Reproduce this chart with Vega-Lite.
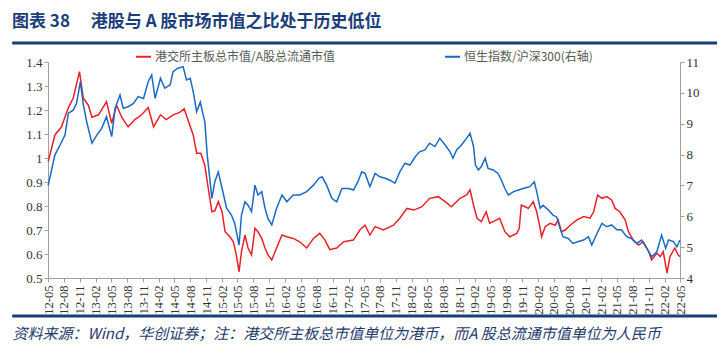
{
  "$schema": "https://vega.github.io/schema/vega-lite/v6.json",
  "width": 632,
  "height": 216,
  "autosize": {"type": "none"},
  "padding": {"left": 48, "top": 62, "right": 46, "bottom": 73},
  "background": "white",
  "config": {
    "view": {"stroke": null},
    "axis": {"labelOverlap": false, "labelSeparation": 0, "labelFlush": false}
  },
  "title": {
    "text": "图表 38\u2003 港股与 A 股市场市值之比处于历史低位",
    "anchor": "start",
    "frame": "group",
    "dx": -36,
    "offset": 11,
    "font": "Noto Sans CJK SC",
    "fontSize": 17,
    "fontWeight": "bold",
    "color": "#1b3d7a"
  },
  "datasets": {
    "ratio": [
      {"date": "2012/05/02", "v": 0.985}, {"date": "2012/06/10", "v": 1.096}, {"date": "2012/07/18", "v": 1.13},
      {"date": "2012/08/27", "v": 1.21}, {"date": "2012/09/24", "v": 1.25}, {"date": "2012/10/30", "v": 1.36},
      {"date": "2012/11/21", "v": 1.25}, {"date": "2012/12/20", "v": 1.22}, {"date": "2013/01/10", "v": 1.17},
      {"date": "2013/02/17", "v": 1.18}, {"date": "2013/04/04", "v": 1.235}, {"date": "2013/05/04", "v": 1.145},
      {"date": "2013/06/01", "v": 1.22}, {"date": "2013/07/01", "v": 1.17}, {"date": "2013/08/07", "v": 1.13},
      {"date": "2013/09/15", "v": 1.16}, {"date": "2013/10/24", "v": 1.18}, {"date": "2013/12/01", "v": 1.21},
      {"date": "2014/01/01", "v": 1.13}, {"date": "2014/02/10", "v": 1.18}, {"date": "2014/03/15", "v": 1.16},
      {"date": "2014/04/24", "v": 1.18}, {"date": "2014/06/01", "v": 1.19}, {"date": "2014/06/27", "v": 1.205},
      {"date": "2014/07/18", "v": 1.16}, {"date": "2014/08/18", "v": 1.096}, {"date": "2014/09/07", "v": 1.02},
      {"date": "2014/10/01", "v": 1.02}, {"date": "2014/10/24", "v": 0.97}, {"date": "2014/11/13", "v": 0.874},
      {"date": "2014/12/04", "v": 0.776}, {"date": "2014/12/21", "v": 0.78}, {"date": "2015/01/10", "v": 0.818},
      {"date": "2015/02/01", "v": 0.776}, {"date": "2015/02/18", "v": 0.693}, {"date": "2015/03/18", "v": 0.672},
      {"date": "2015/04/07", "v": 0.651}, {"date": "2015/04/24", "v": 0.596}, {"date": "2015/05/10", "v": 0.526},
      {"date": "2015/05/24", "v": 0.61}, {"date": "2015/06/13", "v": 0.679}, {"date": "2015/07/01", "v": 0.625},
      {"date": "2015/07/21", "v": 0.596}, {"date": "2015/08/10", "v": 0.707}, {"date": "2015/08/27", "v": 0.693},
      {"date": "2015/09/18", "v": 0.665}, {"date": "2015/10/07", "v": 0.625}, {"date": "2015/10/24", "v": 0.596},
      {"date": "2015/11/15", "v": 0.575}, {"date": "2015/12/13", "v": 0.625}, {"date": "2016/01/13", "v": 0.679},
      {"date": "2016/02/10", "v": 0.672}, {"date": "2016/03/18", "v": 0.665}, {"date": "2016/04/24", "v": 0.651},
      {"date": "2016/06/04", "v": 0.625}, {"date": "2016/07/13", "v": 0.665}, {"date": "2016/08/18", "v": 0.686},
      {"date": "2016/09/18", "v": 0.658}, {"date": "2016/10/15", "v": 0.618}, {"date": "2016/11/24", "v": 0.625},
      {"date": "2017/01/04", "v": 0.651}, {"date": "2017/03/01", "v": 0.658}, {"date": "2017/04/07", "v": 0.70},
      {"date": "2017/05/07", "v": 0.72}, {"date": "2017/06/04", "v": 0.679}, {"date": "2017/07/04", "v": 0.714},
      {"date": "2017/08/21", "v": 0.70}, {"date": "2017/10/18", "v": 0.72}, {"date": "2017/11/24", "v": 0.749},
      {"date": "2018/01/04", "v": 0.79}, {"date": "2018/02/13", "v": 0.783}, {"date": "2018/04/01", "v": 0.797},
      {"date": "2018/05/15", "v": 0.832}, {"date": "2018/07/04", "v": 0.839}, {"date": "2018/08/13", "v": 0.818},
      {"date": "2018/09/18", "v": 0.797}, {"date": "2018/11/07", "v": 0.832}, {"date": "2018/12/15", "v": 0.846},
      {"date": "2019/01/04", "v": 0.867}, {"date": "2019/01/24", "v": 0.804}, {"date": "2019/02/13", "v": 0.749},
      {"date": "2019/03/10", "v": 0.735}, {"date": "2019/04/07", "v": 0.776}, {"date": "2019/04/27", "v": 0.728},
      {"date": "2019/06/07", "v": 0.742}, {"date": "2019/06/24", "v": 0.749}, {"date": "2019/07/24", "v": 0.693},
      {"date": "2019/08/21", "v": 0.672}, {"date": "2019/10/01", "v": 0.686}, {"date": "2019/10/15", "v": 0.707},
      {"date": "2019/10/27", "v": 0.804}, {"date": "2019/11/18", "v": 0.797}, {"date": "2019/12/07", "v": 0.79},
      {"date": "2020/01/04", "v": 0.818}, {"date": "2020/01/24", "v": 0.776}, {"date": "2020/02/13", "v": 0.707},
      {"date": "2020/02/21", "v": 0.672}, {"date": "2020/03/13", "v": 0.714}, {"date": "2020/04/10", "v": 0.728},
      {"date": "2020/05/10", "v": 0.72}, {"date": "2020/05/27", "v": 0.742}, {"date": "2020/06/15", "v": 0.693},
      {"date": "2020/07/07", "v": 0.70}, {"date": "2020/08/04", "v": 0.72}, {"date": "2020/09/13", "v": 0.742},
      {"date": "2020/10/21", "v": 0.756}, {"date": "2020/11/27", "v": 0.749}, {"date": "2020/12/18", "v": 0.776},
      {"date": "2021/01/10", "v": 0.846}, {"date": "2021/02/04", "v": 0.832}, {"date": "2021/03/04", "v": 0.839},
      {"date": "2021/04/01", "v": 0.825}, {"date": "2021/04/21", "v": 0.79}, {"date": "2021/05/18", "v": 0.776},
      {"date": "2021/06/18", "v": 0.742}, {"date": "2021/07/07", "v": 0.693}, {"date": "2021/08/04", "v": 0.658},
      {"date": "2021/09/04", "v": 0.637}, {"date": "2021/10/01", "v": 0.651}, {"date": "2021/11/01", "v": 0.61},
      {"date": "2021/11/18", "v": 0.575}, {"date": "2021/12/18", "v": 0.603}, {"date": "2022/01/07", "v": 0.589},
      {"date": "2022/01/24", "v": 0.61}, {"date": "2022/02/15", "v": 0.52}, {"date": "2022/03/04", "v": 0.589},
      {"date": "2022/04/01", "v": 0.625}, {"date": "2022/04/21", "v": 0.596}, {"date": "2022/05/01", "v": 0.589}
    ],
    "index": [
      {"date": "2012/05/02", "v": 7.0}, {"date": "2012/06/10", "v": 7.99}, {"date": "2012/07/10", "v": 8.31},
      {"date": "2012/08/07", "v": 8.63}, {"date": "2012/08/27", "v": 9.34}, {"date": "2012/09/24", "v": 9.44},
      {"date": "2012/10/13", "v": 9.66}, {"date": "2012/11/04", "v": 10.36}, {"date": "2012/11/21", "v": 9.63},
      {"date": "2012/12/10", "v": 9.07}, {"date": "2013/01/10", "v": 8.37}, {"date": "2013/02/07", "v": 8.63},
      {"date": "2013/03/07", "v": 8.85}, {"date": "2013/04/04", "v": 9.23}, {"date": "2013/05/04", "v": 8.58},
      {"date": "2013/05/24", "v": 9.5}, {"date": "2013/06/21", "v": 9.93}, {"date": "2013/07/10", "v": 9.5},
      {"date": "2013/08/07", "v": 9.55}, {"date": "2013/09/07", "v": 9.66}, {"date": "2013/10/04", "v": 9.88},
      {"date": "2013/11/04", "v": 9.82}, {"date": "2013/12/01", "v": 10.36}, {"date": "2013/12/21", "v": 10.58},
      {"date": "2014/01/10", "v": 9.82}, {"date": "2014/02/10", "v": 10.47}, {"date": "2014/03/07", "v": 10.15},
      {"date": "2014/04/07", "v": 10.26}, {"date": "2014/04/24", "v": 10.69}, {"date": "2014/05/21", "v": 10.8},
      {"date": "2014/06/21", "v": 10.85}, {"date": "2014/07/10", "v": 10.42}, {"date": "2014/08/01", "v": 10.47},
      {"date": "2014/08/18", "v": 10.04}, {"date": "2014/09/07", "v": 9.39}, {"date": "2014/09/28", "v": 9.7},
      {"date": "2014/10/15", "v": 9.28}, {"date": "2014/10/24", "v": 9.07}, {"date": "2014/11/07", "v": 7.99},
      {"date": "2014/11/24", "v": 7.12}, {"date": "2014/12/04", "v": 6.58}, {"date": "2014/12/21", "v": 7.12},
      {"date": "2015/01/10", "v": 7.44}, {"date": "2015/02/01", "v": 6.9}, {"date": "2015/02/27", "v": 6.26},
      {"date": "2015/03/27", "v": 6.04}, {"date": "2015/04/15", "v": 5.77}, {"date": "2015/05/10", "v": 5.07},
      {"date": "2015/05/24", "v": 6.04}, {"date": "2015/06/13", "v": 6.47}, {"date": "2015/07/01", "v": 6.36},
      {"date": "2015/07/21", "v": 6.15}, {"date": "2015/08/10", "v": 7.01}, {"date": "2015/08/27", "v": 6.69},
      {"date": "2015/09/18", "v": 6.8}, {"date": "2015/10/07", "v": 6.26}, {"date": "2015/10/24", "v": 5.93},
      {"date": "2015/11/15", "v": 5.72}, {"date": "2015/12/13", "v": 6.26}, {"date": "2016/01/13", "v": 6.69},
      {"date": "2016/02/10", "v": 6.47}, {"date": "2016/03/18", "v": 6.69}, {"date": "2016/04/24", "v": 6.69},
      {"date": "2016/06/04", "v": 6.8}, {"date": "2016/07/13", "v": 7.01}, {"date": "2016/08/13", "v": 7.23},
      {"date": "2016/09/01", "v": 7.28}, {"date": "2016/09/27", "v": 7.01}, {"date": "2016/10/27", "v": 6.58},
      {"date": "2016/11/24", "v": 6.47}, {"date": "2016/12/24", "v": 6.9}, {"date": "2017/02/01", "v": 6.9},
      {"date": "2017/03/01", "v": 6.85}, {"date": "2017/03/27", "v": 7.12}, {"date": "2017/04/18", "v": 7.44},
      {"date": "2017/05/07", "v": 7.39}, {"date": "2017/06/04", "v": 6.96}, {"date": "2017/07/04", "v": 7.39},
      {"date": "2017/08/01", "v": 7.28}, {"date": "2017/09/01", "v": 7.23}, {"date": "2017/09/27", "v": 7.17},
      {"date": "2017/10/27", "v": 7.07}, {"date": "2017/11/24", "v": 7.44}, {"date": "2017/12/24", "v": 7.72},
      {"date": "2018/01/21", "v": 7.66}, {"date": "2018/02/21", "v": 7.93}, {"date": "2018/03/18", "v": 8.09},
      {"date": "2018/04/18", "v": 8.15}, {"date": "2018/05/15", "v": 8.37}, {"date": "2018/06/15", "v": 8.26},
      {"date": "2018/07/13", "v": 8.53}, {"date": "2018/08/13", "v": 8.31}, {"date": "2018/09/10", "v": 8.09},
      {"date": "2018/09/27", "v": 7.88}, {"date": "2018/10/18", "v": 8.15}, {"date": "2018/11/15", "v": 8.31},
      {"date": "2018/12/07", "v": 8.47}, {"date": "2019/01/04", "v": 8.69}, {"date": "2019/01/24", "v": 8.26},
      {"date": "2019/02/04", "v": 7.66}, {"date": "2019/02/21", "v": 7.5}, {"date": "2019/03/10", "v": 7.61},
      {"date": "2019/04/01", "v": 7.88}, {"date": "2019/04/18", "v": 7.55}, {"date": "2019/05/18", "v": 7.5},
      {"date": "2019/06/15", "v": 7.39}, {"date": "2019/07/04", "v": 7.17}, {"date": "2019/07/24", "v": 6.9},
      {"date": "2019/08/13", "v": 6.69}, {"date": "2019/09/13", "v": 6.8}, {"date": "2019/10/10", "v": 6.85},
      {"date": "2019/11/07", "v": 6.9}, {"date": "2019/12/15", "v": 6.96}, {"date": "2020/01/10", "v": 7.12},
      {"date": "2020/01/24", "v": 6.8}, {"date": "2020/02/13", "v": 6.26}, {"date": "2020/03/01", "v": 6.36},
      {"date": "2020/04/01", "v": 6.2}, {"date": "2020/04/27", "v": 6.04}, {"date": "2020/05/18", "v": 5.98},
      {"date": "2020/06/07", "v": 5.61}, {"date": "2020/06/24", "v": 5.34}, {"date": "2020/07/24", "v": 5.28},
      {"date": "2020/08/21", "v": 5.12}, {"date": "2020/09/21", "v": 5.18}, {"date": "2020/10/21", "v": 5.23},
      {"date": "2020/11/18", "v": 5.34}, {"date": "2020/12/07", "v": 5.07}, {"date": "2021/01/07", "v": 5.45},
      {"date": "2021/02/04", "v": 5.77}, {"date": "2021/03/04", "v": 5.66}, {"date": "2021/04/01", "v": 5.72},
      {"date": "2021/05/01", "v": 5.56}, {"date": "2021/05/27", "v": 5.56}, {"date": "2021/06/27", "v": 5.34},
      {"date": "2021/07/24", "v": 5.28}, {"date": "2021/08/24", "v": 5.12}, {"date": "2021/09/21", "v": 5.23},
      {"date": "2021/10/21", "v": 4.96}, {"date": "2021/11/18", "v": 4.69}, {"date": "2021/12/18", "v": 4.85},
      {"date": "2022/01/15", "v": 5.39}, {"date": "2022/02/07", "v": 4.96}, {"date": "2022/02/24", "v": 5.23},
      {"date": "2022/03/24", "v": 5.18}, {"date": "2022/04/13", "v": 5.01}, {"date": "2022/05/01", "v": 5.23}
    ]
  },
  "layer": [
    {
      "layer": [
        {
          "data": {"name": "ratio"},
          "mark": {"type": "line", "strokeWidth": 1.5, "interpolate": "linear"},
          "encoding": {
            "x": {
              "field": "date",
              "type": "temporal",
              "scale": {"domain": [{"year": 2012, "month": 5, "date": 1}, {"year": 2022, "month": 5, "date": 1}], "nice": false},
              "axis": {
                "values": [
                  {"year": 2012, "month": 5, "date": 1}, {"year": 2012, "month": 8, "date": 1}, {"year": 2012, "month": 11, "date": 1},
                  {"year": 2013, "month": 2, "date": 1}, {"year": 2013, "month": 5, "date": 1}, {"year": 2013, "month": 8, "date": 1}, {"year": 2013, "month": 11, "date": 1},
                  {"year": 2014, "month": 2, "date": 1}, {"year": 2014, "month": 5, "date": 1}, {"year": 2014, "month": 8, "date": 1}, {"year": 2014, "month": 11, "date": 1},
                  {"year": 2015, "month": 2, "date": 1}, {"year": 2015, "month": 5, "date": 1}, {"year": 2015, "month": 8, "date": 1}, {"year": 2015, "month": 11, "date": 1},
                  {"year": 2016, "month": 2, "date": 1}, {"year": 2016, "month": 5, "date": 1}, {"year": 2016, "month": 8, "date": 1}, {"year": 2016, "month": 11, "date": 1},
                  {"year": 2017, "month": 2, "date": 1}, {"year": 2017, "month": 5, "date": 1}, {"year": 2017, "month": 8, "date": 1}, {"year": 2017, "month": 11, "date": 1},
                  {"year": 2018, "month": 2, "date": 1}, {"year": 2018, "month": 5, "date": 1}, {"year": 2018, "month": 8, "date": 1}, {"year": 2018, "month": 11, "date": 1},
                  {"year": 2019, "month": 2, "date": 1}, {"year": 2019, "month": 5, "date": 1}, {"year": 2019, "month": 8, "date": 1}, {"year": 2019, "month": 11, "date": 1},
                  {"year": 2020, "month": 2, "date": 1}, {"year": 2020, "month": 5, "date": 1}, {"year": 2020, "month": 8, "date": 1}, {"year": 2020, "month": 11, "date": 1},
                  {"year": 2021, "month": 2, "date": 1}, {"year": 2021, "month": 5, "date": 1}, {"year": 2021, "month": 8, "date": 1}, {"year": 2021, "month": 11, "date": 1},
                  {"year": 2022, "month": 2, "date": 1}, {"year": 2022, "month": 5, "date": 1}
                ],
                "tickCount": 100,
                "format": "%y-%m",
                "labelAngle": -90,
                "labelFont": "Liberation Serif",
                "labelFontSize": 12.5,
                "labelColor": "#333333",
                "labelPadding": 3,
                "labelOverlap": false,
                "domainColor": "#a0a0a0",
                "tickColor": "#a0a0a0",
                "tickSize": 4,
                "grid": false,
                "title": "资料来源：Wind，华创证券；注：港交所主板总市值单位为港币，而A 股总流通市值单位为人民币",
                "titleFont": "Noto Sans CJK SC",
                "titleFontStyle": "italic",
                "titleFontWeight": "normal",
                "titleFontSize": 15,
                "titleColor": "#1f3a6b",
                "titleAnchor": "start",
                "titleAlign": "left",
                "titleBaseline": "middle",
                "titleX": -36,
                "titleY": 55
              }
            },
            "y": {
              "field": "v",
              "type": "quantitative",
              "scale": {"domain": [0.5, 1.4], "nice": false, "zero": false},
              "axis": {
                "values": [0.5, 0.6, 0.7, 0.8, 0.9, 1, 1.1, 1.2, 1.3, 1.4],
                "tickCount": 100,
                "format": "~g",
                "labelOverlap": false,
                "labelFont": "Liberation Serif",
                "labelFontSize": 13,
                "labelColor": "#333333",
                "domainColor": "#a0a0a0",
                "tickColor": "#a0a0a0",
                "tickSize": 4,
                "grid": false,
                "title": null
              }
            },
            "color": {
              "datum": "港交所主板总市值/A股总流通市值",
              "type": "nominal",
              "scale": {"domain": ["港交所主板总市值/A股总流通市值", "恒生指数/沪深300(右轴)"], "range": ["#e8202a", "#1a6ac3"]},
              "legend": {
                "orient": "none",
                "legendX": 87,
                "legendY": -14,
                "direction": "horizontal",
                "title": null,
                "symbolType": "stroke",
                "symbolSize": 225,
                "symbolStrokeWidth": 2,
                "labelFont": "Noto Sans CJK SC",
                "labelFontSize": 12,
                "labelLimit": 0,
                "labelColor": "#595959",
                "columnPadding": 106,
                "labelOffset": 3
              }
            }
          }
        },
        {
          "data": {"values": [{}]},
          "mark": {"type": "rule", "color": "#173f7a", "strokeWidth": 3},
          "encoding": {
            "x": {"datum": {"year": 2011, "month": 10, "date": 7}, "type": "temporal"},
            "x2": {"datum": {"year": 2022, "month": 12, "date": 1}},
            "y": {"datum": 1.479, "type": "quantitative"}
          }
        },
        {
          "data": {"values": [{}]},
          "mark": {"type": "rule", "color": "#173f7a", "strokeWidth": 3},
          "encoding": {
            "x": {"datum": {"year": 2011, "month": 10, "date": 7}, "type": "temporal"},
            "x2": {"datum": {"year": 2022, "month": 12, "date": 1}},
            "y": {"datum": 0.342, "type": "quantitative"}
          }
        }
      ]
    },
    {
      "data": {"name": "index"},
      "mark": {"type": "line", "strokeWidth": 1.5},
      "encoding": {
        "x": {"field": "date", "type": "temporal"},
        "y": {
          "field": "v",
          "type": "quantitative",
          "scale": {"domain": [4, 11], "nice": false, "zero": false},
          "axis": {
            "orient": "right",
            "values": [4, 5, 6, 7, 8, 9, 10, 11],
            "tickCount": 100,
            "format": "d",
            "labelFont": "Liberation Serif",
            "labelFontSize": 13,
            "labelColor": "#333333",
            "domainColor": "#a0a0a0",
            "tickColor": "#a0a0a0",
            "tickSize": 4,
            "grid": false,
            "title": null
          }
        },
        "color": {"datum": "恒生指数/沪深300(右轴)", "type": "nominal"}
      }
    }
  ],
  "resolve": {"scale": {"y": "independent"}}
}
